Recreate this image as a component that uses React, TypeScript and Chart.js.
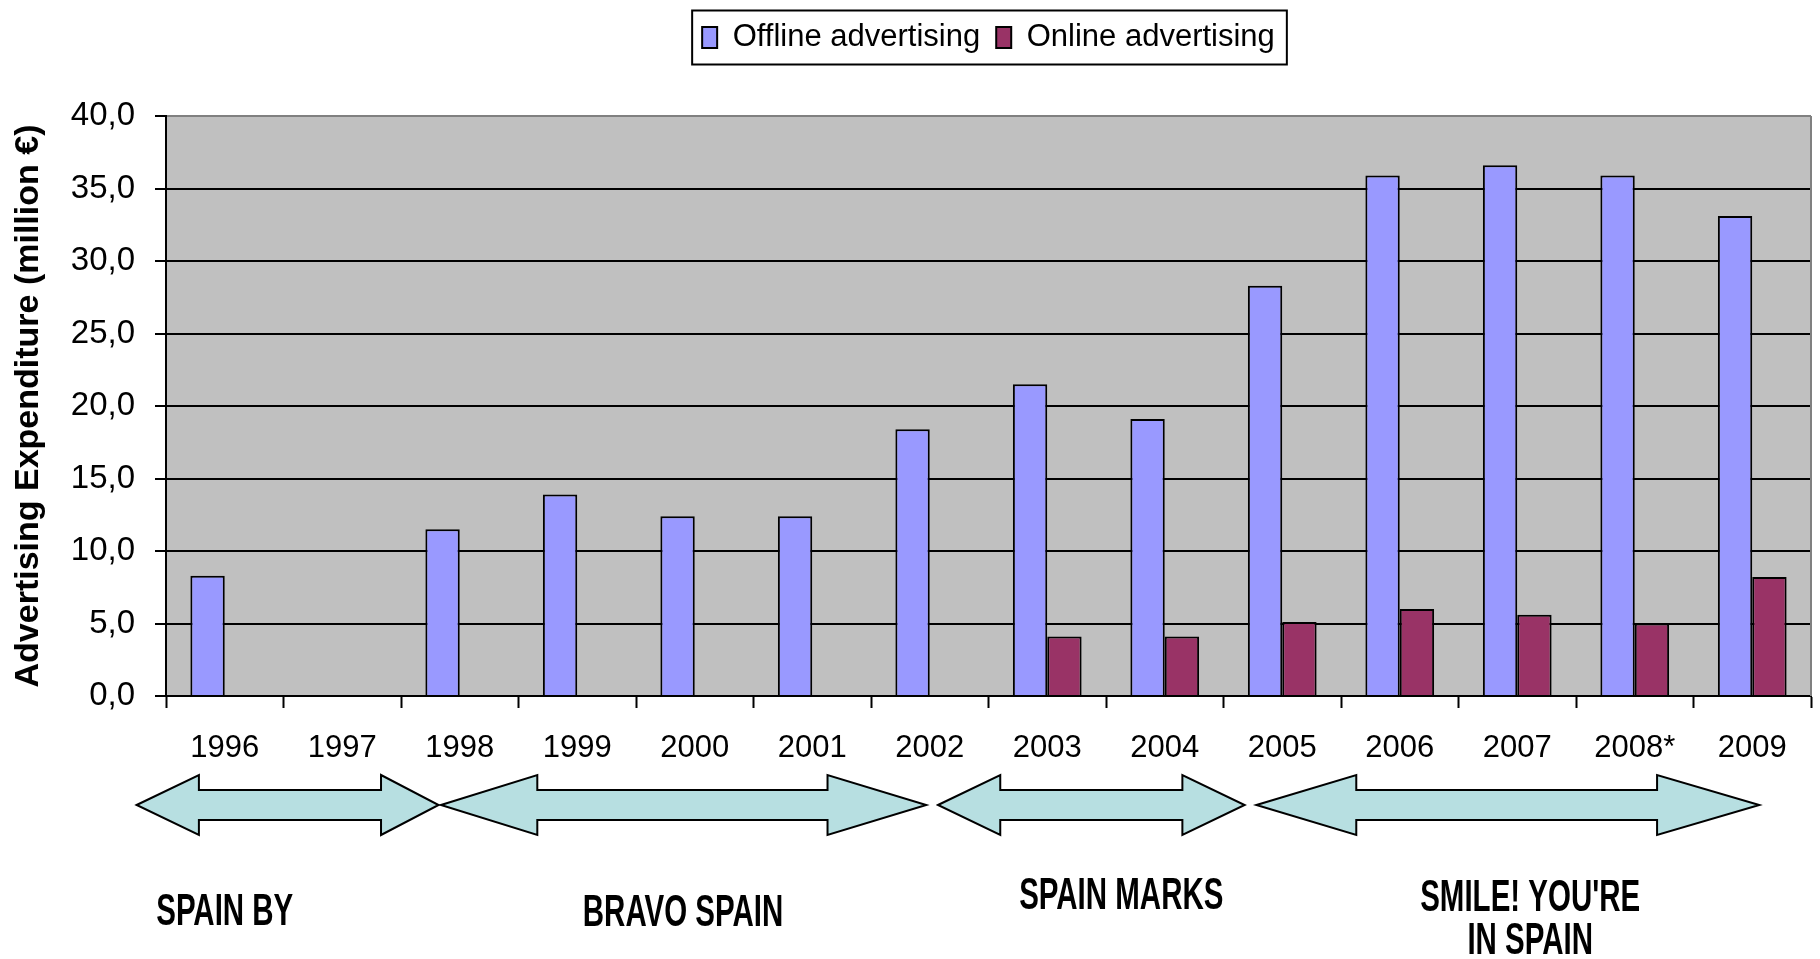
import React, { useEffect, useRef } from "react";
import { Chart, registerables } from "chart.js";

Chart.register(...registerables);

// data
const years = ["1996", "1997", "1998", "1999", "2000", "2001", "2002", "2003", "2004", "2005", "2006", "2007", "2008*", "2009"];
const offlineSpend = [8.3, null, 11.5, 13.9, 12.4, 12.4, 18.4, 21.5, 19.1, 28.3, 35.9, 36.6, 35.9, 33.1];
const onlineSpend = [null, null, null, null, null, null, null, 4.1, 4.1, 5.1, 6.0, 5.6, 5.0, 8.2];
const yMin = 0;
const yMax = 40;
const yStep = 5;

// campaigns, spans given in category index units
const campaignNames = [["SPAIN BY"], ["BRAVO SPAIN"], ["SPAIN MARKS"], ["SMILE! YOU'RE", "IN SPAIN"]];
const campaignSpans = [
  [-0.75, 1.82],
  [1.84, 5.97],
  [6.07, 8.68],
  [8.78, 13.06],
];
const campaignLabelAt = [0, 3.9, 7.63, 11.11];

// styling / layout for the campaign arrows (pixels below the x axis)
const arrowHeads = [
  [0.53, 0.49],
  [0.82, 0.84],
  [0.53, 0.53],
  [0.85, 0.87],
];
const labelOffsets = [[217], [218], [201], [203, 246]];
const ARROW_Y = 109;
const HEAD_HALF = 30;
const BODY_HALF = 15;

const catToPx = (chart: any, v: number) => {
  const x = chart.scales.x;
  const p0 = x.getPixelForValue(0);
  const p1 = x.getPixelForValue(1);
  return p0 + v * (p1 - p0);
};

const plotDecor = {
  id: "plotDecor",
  beforeLayout(chart: any) {
    const legend = chart.legend;
    if (legend && !legend._patched) {
      const origFit = legend.fit.bind(legend);
      legend.fit = function () {
        origFit();
        this.height = 110;
      };
      legend._patched = true;
    }
  },
  beforeDraw(chart: any) {
    const { ctx, chartArea: a } = chart;
    ctx.save();
    ctx.fillStyle = "#c0c0c0";
    ctx.fillRect(a.left, a.top, a.right - a.left, a.bottom - a.top);
    ctx.restore();
  },
  afterDraw(chart: any) {
    const { ctx, chartArea: a } = chart;
    ctx.save();
    // plot border on the right
    ctx.strokeStyle = "#808080";
    ctx.lineWidth = 2;
    ctx.beginPath();
    ctx.moveTo(a.right, a.top);
    ctx.lineTo(a.right, a.bottom);
    ctx.stroke();

    // legend frame
    const boxes = chart.legend?.legendHitBoxes || [];
    if (boxes.length) {
      const first = boxes[0];
      const last = boxes[boxes.length - 1];
      const cy = first.top + first.height / 2;
      ctx.strokeStyle = "#000";
      ctx.lineWidth = 2;
      ctx.strokeRect(first.left - 10, cy - 27, last.left + last.width - first.left + 22, 54);
    }

    // campaign arrows
    const yc = a.bottom + ARROW_Y;
    campaignSpans.forEach(([s, e], i) => {
      const xl = catToPx(chart, s);
      const xr = catToPx(chart, e);
      const hl = catToPx(chart, s + arrowHeads[i][0]) - xl;
      const hr = xr - catToPx(chart, e - arrowHeads[i][1]);
      ctx.beginPath();
      ctx.moveTo(xl, yc);
      ctx.lineTo(xl + hl, yc - HEAD_HALF);
      ctx.lineTo(xl + hl, yc - BODY_HALF);
      ctx.lineTo(xr - hr, yc - BODY_HALF);
      ctx.lineTo(xr - hr, yc - HEAD_HALF);
      ctx.lineTo(xr, yc);
      ctx.lineTo(xr - hr, yc + HEAD_HALF);
      ctx.lineTo(xr - hr, yc + BODY_HALF);
      ctx.lineTo(xl + hl, yc + BODY_HALF);
      ctx.lineTo(xl + hl, yc + HEAD_HALF);
      ctx.closePath();
      ctx.fillStyle = "#b7dfe1";
      ctx.fill();
      ctx.strokeStyle = "#000";
      ctx.lineWidth = 2;
      ctx.lineJoin = "miter";
      ctx.stroke();
    });

    // campaign names (condensed bold)
    ctx.fillStyle = "#000";
    ctx.font = 'bold 44px "Liberation Sans", Arial, sans-serif';
    ctx.textAlign = "center";
    ctx.textBaseline = "middle";
    campaignNames.forEach((lines, i) => {
      const cx = catToPx(chart, campaignLabelAt[i]);
      lines.forEach((line, j) => {
        ctx.save();
        ctx.translate(cx, a.bottom + labelOffsets[i][j]);
        ctx.scale(0.67, 1);
        ctx.fillText(line, 0, 0);
        ctx.restore();
      });
    });
    ctx.restore();
  },
};

const App = () => {
  const canvasRef = useRef<HTMLCanvasElement>(null);
  const chartRef = useRef<Chart | null>(null);

  useEffect(() => {
    const ctx = canvasRef.current?.getContext("2d");
    if (!ctx) return;
    if (chartRef.current) chartRef.current.destroy();

    Chart.defaults.color = "#000";
    Chart.defaults.font.family = '"Liberation Sans", Arial, sans-serif';

    chartRef.current = new Chart(ctx, {
      type: "bar",
      data: {
        labels: years,
        datasets: [
          {
            label: "Offline advertising",
            data: offlineSpend,
            backgroundColor: "#9999ff",
            borderColor: "#000",
            borderWidth: 2,
            categoryPercentage: 0.585,
            barPercentage: 1,
          },
          {
            label: "Online advertising",
            data: onlineSpend,
            backgroundColor: "#993366",
            borderColor: "#000",
            borderWidth: 2,
            categoryPercentage: 0.585,
            barPercentage: 1,
          },
        ],
      },
      options: {
        animation: false,
        responsive: true,
        maintainAspectRatio: false,
        layout: { padding: { left: 0, right: 9, top: 6, bottom: 0 } },
        plugins: {
          tooltip: { enabled: false },
          legend: {
            position: "top",
            fullSize: false,
            labels: {
              boxWidth: 15,
              boxHeight: 21,
              padding: 16,
              color: "#000",
              font: { size: 31 },
            },
          },
        },
        scales: {
          x: {
            afterFit: (scale: any) => {
              scale.height = 263;
            },
            grid: {
              display: true,
              offset: true,
              drawOnChartArea: false,
              drawTicks: true,
              tickLength: 12,
              tickColor: "#000",
              tickWidth: 2,
            },
            border: { display: true, color: "#000", width: 2 },
            ticks: {
              color: "#000",
              font: { size: 31 },
              padding: 22,
              maxRotation: 0,
              autoSkip: false,
            },
          },
          y: {
            min: yMin,
            max: yMax,
            afterFit: (scale: any) => {
              scale.width = 166;
            },
            grid: {
              color: (c: any) => (c.tick && c.tick.value === yMax ? "#808080" : "#000"),
              lineWidth: 2,
              tickLength: 11,
              tickColor: "#000",
              tickWidth: 2,
            },
            border: { display: true, color: "#000", width: 2 },
            ticks: {
              stepSize: yStep,
              color: "#000",
              font: { size: 33 },
              padding: 20,
              callback: (v: any) => Number(v).toFixed(1).replace(".", ","),
            },
            title: {
              display: true,
              text: "Advertising Expenditure (million €)",
              color: "#000",
              font: { size: 34, weight: "bold" },
              padding: { top: 8, bottom: 0 },
            },
          },
        },
      },
      plugins: [plotDecor],
    });

    return () => {
      if (chartRef.current) {
        chartRef.current.destroy();
        chartRef.current = null;
      }
    };
  }, []);

  return (
    <div style={{ position: "absolute", left: 0, top: 0, width: 1820, height: 959, background: "#fff" }}>
      <canvas ref={canvasRef}></canvas>
    </div>
  );
};

export default App;
